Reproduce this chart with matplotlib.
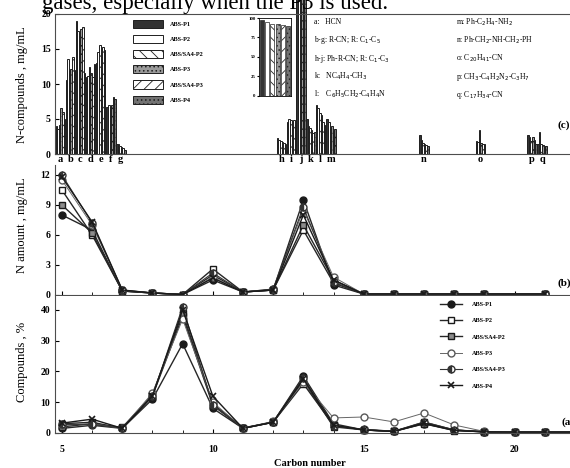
import matplotlib
matplotlib.use('Agg')
import matplotlib.pyplot as plt
from matplotlib.ticker import MultipleLocator

plt.rcParams['font.family'] = ['Liberation Serif', 'DejaVu Serif']
plt.rcParams['hatch.linewidth'] = 0.6

# Series names
series = ['ABS-P1', 'ABS-P2', 'ABS/SA4-P2', 'ABS-P3', 'ABS/SA4-P3', 'ABS-P4']

# Panel (c): N-compounds (mg/mL), one row per compound group, one value per series
letters = ['a', 'b', 'c', 'd', 'e', 'f', 'g', 'h', 'i', 'j', 'k', 'l', 'm', 'n', 'o', 'p', 'q']
n_compounds = [
    [4.0, 3.6, 4.2, 6.5, 6.0, 5.0],
    [10.5, 13.5, 12.0, 12.2, 13.9, 12.0],
    [19.0, 17.5, 17.0, 17.8, 18.2, 11.5],
    [11.0, 11.2, 12.4, 11.5, 11.0, 12.8],
    [13.0, 14.5, 15.6, 14.4, 15.3, 14.8],
    [6.7, 7.0, 6.8, 7.0, 8.1, 7.8],
    [1.5, 1.4, 1.2, 1.0, 0.8, 0.6],
    [2.3, 2.0, 1.8, 1.7, 1.6, 1.5],
    [4.5, 5.0, 4.9, 4.6, 4.8, 4.2],
    [28.0, 29.0, 30.0, 27.0, 29.0, 28.0],
    [5.0, 4.0, 3.7, 3.5, 3.0, 3.2],
    [7.0, 6.6, 5.9, 5.5, 4.5, 4.1],
    [5.0, 4.5, 3.7, 4.0, 3.4, 3.6],
    [2.7, 2.0, 1.6, 1.5, 1.3, 1.2],
    [1.8, 1.7, 3.4, 1.6, 1.5, 1.4],
    [2.7, 2.5, 1.8, 2.4, 2.0, 1.5],
    [1.5, 3.1, 1.4, 1.3, 1.2, 1.1],
]
# inset: total (%) per series
inset_values = [98, 95, 92, 92, 91, 90]

compound_notes_left = ['a:   HCN', 'b-g: R-CN; R: C$_1$-C$_5$', 'h-j: Ph-R-CN; R: C$_1$-C$_3$',
                       'k:   NC$_4$H$_4$-CH$_3$', 'l:    C$_6$H$_5$CH$_2$-C$_4$H$_4$N']
compound_notes_right = ['m: Ph-C$_2$H$_4$-NH$_2$', 'n: Ph-CH$_2$-NH-CH$_2$-PH', 'o: C$_{20}$H$_{41}$-CN',
                        'p: CH$_3$-C$_4$H$_2$N$_2$-C$_3$H$_7$', 'q: C$_{17}$H$_{34}$-CN']

# Panel (b): N amount (mg/mL) vs carbon number
carbon_b = [5, 6, 7, 8, 9, 10, 11, 12, 13, 14, 15, 16, 17, 18, 19, 21]
n_amount = [
    [8.0, 6.5, 0.4, 0.2, 0.05, 1.5, 0.3, 0.5, 9.5, 1.0, 0.1, 0.1, 0.1, 0.1, 0.1, 0.1],
    [10.5, 6.0, 0.4, 0.2, 0.05, 2.6, 0.3, 0.5, 6.5, 1.2, 0.1, 0.1, 0.1, 0.1, 0.1, 0.1],
    [9.0, 6.2, 0.4, 0.2, 0.05, 2.0, 0.3, 0.5, 7.0, 1.5, 0.1, 0.1, 0.1, 0.1, 0.1, 0.1],
    [11.5, 7.0, 0.5, 0.2, 0.05, 1.8, 0.3, 0.6, 8.5, 1.8, 0.1, 0.1, 0.1, 0.1, 0.1, 0.1],
    [12.0, 7.2, 0.5, 0.2, 0.05, 2.2, 0.3, 0.6, 8.8, 1.3, 0.1, 0.1, 0.1, 0.1, 0.1, 0.1],
    [11.8, 7.3, 0.5, 0.2, 0.05, 1.7, 0.3, 0.5, 8.0, 1.5, 0.1, 0.1, 0.1, 0.1, 0.1, 0.1],
]

# Panel (a): compounds (%) vs carbon number
carbon_a = [5, 6, 7, 8, 9, 10, 11, 12, 13, 14, 15, 16, 17, 18, 19, 20, 21, 22]
compounds_pct = [
    [1.5, 2.5, 1.5, 11.0, 29.0, 8.0, 1.5, 3.5, 18.5, 3.0, 1.0, 0.5, 3.0, 1.0, 0.3, 0.3, 0.3, 0.3],
    [3.0, 3.5, 1.5, 12.0, 38.0, 9.0, 1.5, 3.5, 16.0, 2.5, 1.0, 0.5, 3.5, 1.0, 0.4, 0.3, 0.3, 0.3],
    [2.0, 3.0, 1.8, 12.5, 39.0, 9.5, 1.6, 3.5, 17.0, 2.0, 1.0, 0.6, 3.0, 0.8, 0.4, 0.3, 0.3, 0.3],
    [2.5, 3.0, 1.5, 13.0, 37.0, 10.0, 1.5, 3.8, 16.5, 4.9, 5.2, 3.6, 6.5, 2.6, 0.5, 0.3, 0.3, 0.3],
    [2.8, 2.8, 1.6, 12.0, 41.0, 9.0, 1.7, 3.6, 18.0, 2.2, 1.2, 0.6, 3.6, 1.0, 0.4, 0.3, 0.3, 0.3],
    [3.2, 4.5, 1.5, 12.0, 40.0, 12.0, 1.5, 3.5, 17.5, 2.5, 1.0, 0.5, 3.2, 0.8, 0.4, 0.3, 0.3, 0.3],
]

# posiciones de los grupos de barras sobre el mismo eje (numero de carbono)
group_pos = [4.95, 5.28, 5.61, 5.94, 6.28, 6.63, 6.95,
             12.28, 12.61, 12.93, 13.25, 13.57, 13.92,
             16.99, 18.87, 20.58, 20.91]

bar_styles = [
    dict(facecolor='0.2', hatch=None),
    dict(facecolor='white', hatch=None),
    dict(facecolor='white', hatch='\\\\\\'),
    dict(facecolor='0.6', hatch='....'),
    dict(facecolor='white', hatch='///'),
    dict(facecolor='0.45', hatch='....'),
]
line_styles = [
    dict(marker='o', mfc='0.1', mec='0.1', color='0.15', lw=1.0),
    dict(marker='s', mfc='white', mec='0.1', color='0.15', lw=1.0),
    dict(marker='s', mfc='0.55', mec='0.1', color='0.15', lw=1.0),
    dict(marker='o', mfc='white', mec='0.35', color='0.4', lw=0.7),
    dict(marker='o', mfc='0.2', mfcalt='white', fillstyle='left', mec='0.2', color='0.2', lw=0.8),
    dict(marker='x', color='0.1', mec='0.1', lw=1.0, mew=1.2),
]

W, H = 570, 468
fig = plt.figure(figsize=(W / 100, H / 100), dpi=100)

def box(left, top, right, bottom):
    return [left / W, 1 - bottom / H, (right - left) / W, (bottom - top) / H]

XLIM = (4.77, 22.5)
tick_font = dict(fontsize=7, fontweight='bold')

# ---- panel (c)
ax_c = fig.add_axes(box(55, 14, 590, 154))
bw = 0.053
for k in range(6):
    xs = [p + (k - 2.5) * bw for p in group_pos]
    hs = [row[k] for row in n_compounds]
    bars = ax_c.bar(xs, hs, width=bw, edgecolor='0.12', linewidth=0.7,
                    label=series[k], **bar_styles[k])
    # la barra j sale fuera de escala
    for b, letter in zip(bars, letters):
        if letter == 'j':
            b.set_clip_on(False)
ax_c.set_xlim(*XLIM)
ax_c.set_ylim(0, 20)
ax_c.set_yticks([0, 5, 10, 15, 20])
ax_c.set_yticklabels(['0', '5', '10', '15', '20'], **tick_font)
ax_c.set_xticks(group_pos)
ax_c.set_xticklabels(letters, fontsize=7.5, fontweight='bold')
ax_c.tick_params(axis='x', length=0, pad=1)
ax_c.tick_params(axis='y', direction='in', length=3, pad=3)
for sp in ax_c.spines.values():
    sp.set_linewidth(0.8)
    sp.set_color('0.3')
leg_c = ax_c.legend(loc='upper left', bbox_to_anchor=(0.135, 1.0), frameon=False,
                    prop=dict(size=4.5, weight='bold'), handlelength=4.8, handleheight=1.6,
                    labelspacing=1.15, handletextpad=1.2)
for i, txt in enumerate(compound_notes_left):
    ax_c.text(0.484, 0.94 - i * 0.129, txt, transform=ax_c.transAxes, fontsize=5.5, va='center')
for i, txt in enumerate(compound_notes_right):
    ax_c.text(0.75, 0.94 - i * 0.129, txt, transform=ax_c.transAxes, fontsize=5.5, va='center')

# inset
ax_in = fig.add_axes(box(259, 18, 291, 96))
for k in range(6):
    ax_in.bar(k, inset_values[k], width=0.75, edgecolor='0.15', linewidth=0.5, **bar_styles[k])
ax_in.set_ylim(0, 100)
ax_in.set_xlim(-0.6, 5.6)
ax_in.set_xticks([])
ax_in.set_yticks([0, 25, 50, 75, 100])
ax_in.set_yticklabels(['0', '25', '50', '75', '100'], fontsize=3.5, fontweight='bold')
ax_in.tick_params(axis='y', length=1.5, pad=1)
for sp in ax_in.spines.values():
    sp.set_linewidth(0.6)

# ---- panel (b)
ax_b = fig.add_axes(box(55, 165, 590, 295))
for k in range(6):
    ax_b.plot(carbon_b, n_amount[k], ms=5, clip_on=False, **line_styles[k])
ax_b.set_xlim(*XLIM)
ax_b.set_ylim(0, 13)
ax_b.set_yticks([0, 3, 6, 9, 12])
ax_b.set_yticklabels(['0', '3', '6', '9', '12'], **tick_font)
ax_b.xaxis.set_major_locator(MultipleLocator(5))
ax_b.xaxis.set_minor_locator(MultipleLocator(1))
ax_b.set_xticklabels([])
ax_b.tick_params(axis='both', which='both', direction='in', length=3)
ax_b.tick_params(axis='x', which='minor', length=2)
for sp in ['top', 'right']:
    ax_b.spines[sp].set_visible(False)
for sp in ['left', 'bottom']:
    ax_b.spines[sp].set_linewidth(0.8)
    ax_b.spines[sp].set_color('0.3')

# ---- panel (a)
ax_a = fig.add_axes(box(55, 296, 590, 433))
for k in range(6):
    ax_a.plot(carbon_a, compounds_pct[k], ms=5, clip_on=False, label=series[k], **line_styles[k])
ax_a.set_xlim(*XLIM)
ax_a.set_ylim(0, 44.5)
ax_a.set_yticks([0, 10, 20, 30, 40])
ax_a.set_yticklabels(['0', '10', '20', '30', '40'], **tick_font)
ax_a.xaxis.set_major_locator(MultipleLocator(5))
ax_a.xaxis.set_minor_locator(MultipleLocator(1))
ax_a.set_xticks([5, 10, 15, 20])
ax_a.set_xticklabels(['5', '10', '15', '20'], **tick_font)
ax_a.tick_params(axis='both', which='both', direction='in', length=3)
ax_a.tick_params(axis='x', which='minor', length=2)
ax_a.tick_params(axis='x', pad=9)
for sp in ['top', 'right']:
    ax_a.spines[sp].set_visible(False)
for sp in ['left', 'bottom']:
    ax_a.spines[sp].set_linewidth(0.8)
    ax_a.spines[sp].set_color('0.3')
ax_a.legend(loc='upper left', bbox_to_anchor=(0.71, 1.0), frameon=False,
            prop=dict(size=4.5, weight='bold'), handlelength=3.5, labelspacing=1.75,
            handletextpad=1.5, markerscale=1.0)

# axis titles and panel labels
fig.text(22 / W, 1 - 85 / H, 'N-compounds , mg/mL', rotation=90, ha='center', va='center', fontsize=9)
fig.text(22 / W, 1 - 225 / H, 'N amount , mg/mL', rotation=90, ha='center', va='center', fontsize=9)
fig.text(22 / W, 1 - 362 / H, 'Compounds , %', rotation=90, ha='center', va='center', fontsize=9)
fig.text(310 / W, 1 - 464 / H, 'Carbon number', ha='center', va='center', fontsize=7.5, fontweight='bold')
fig.text(557 / W, 1 - 125 / H, '(c)', fontsize=8, fontweight='bold', va='center')
fig.text(558 / W, 1 - 283 / H, '(b)', fontsize=8, fontweight='bold', va='center')
fig.text(561 / W, 1 - 422 / H, '(a)', fontsize=8, fontweight='bold', va='center')
fig.text(42 / W, 1 - 9 / H, 'gases, especially when the P3 is used.', fontsize=16.5, va='baseline')

fig.savefig('out.png', dpi=100)
